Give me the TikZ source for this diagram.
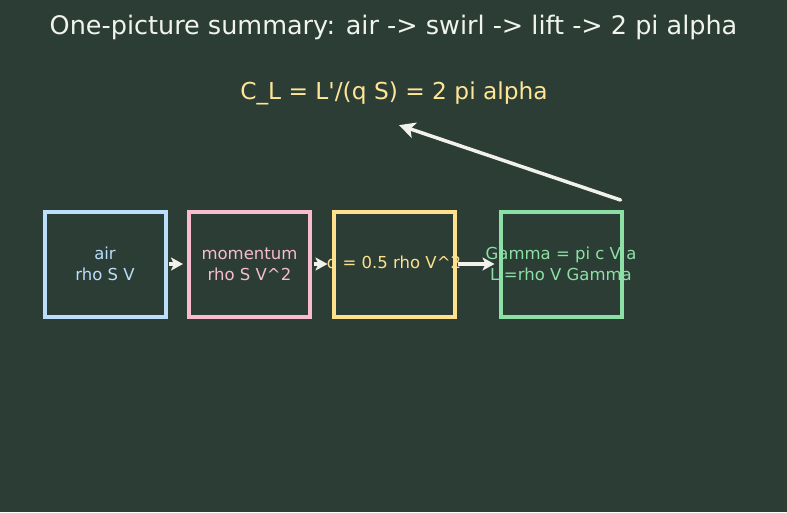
\documentclass[tikz,border=0pt]{standalone}
\usepackage{fontspec}
\setmainfont{DejaVu Sans}[Ligatures=NoCommon]
\usetikzlibrary{arrows.meta,calc}
\definecolor{bg}{RGB}{44,61,53}
\definecolor{cblue}{RGB}{187,222,251}
\definecolor{cpink}{RGB}{248,187,208}
\definecolor{cyel}{RGB}{255,224,140}
\definecolor{cgreen}{RGB}{140,224,165}
\definecolor{ctitle}{RGB}{240,244,236}
\definecolor{cform}{RGB}{255,230,150}
\definecolor{carrow}{RGB}{242,242,236}
\tikzset{
  box/.style={draw=#1, line width=4pt, minimum width=121pt, minimum height=105pt, inner sep=0pt},
  boxtext/.style={text=#1, align=center, font=\fontsize{16.5}{21}\selectfont},
  flow/.style={draw=carrow, line width=3.5pt, -{Stealth[length=12pt,width=13pt,inset=3pt]}},
}
\begin{document}
\begin{tikzpicture}[x=1pt,y=-1pt]
\useasboundingbox (0,0) rectangle (787,512);
\fill[bg] (0,0) rectangle (787,512);
\node[text=ctitle, font=\fontsize{25.5}{30}\selectfont] (title) at (393.5,27) {One-picture summary: air -> swirl -> lift -> 2 pi alpha};
\node[text=cform, font=\fontsize{23.3}{28}\selectfont] (cl) at (394,93) {C\_L = L\textquotesingle/(q S) = 2 pi alpha};
\node[box=cblue, label={[boxtext=cblue]center:air\\rho S V}] (a) at (105,264) {};
\node[box=cpink, label={[boxtext=cpink]center:momentum\\rho S V\^{}2}] (m) at (249.5,264) {};
\node[box=cyel, label={[boxtext=cyel]center:q = 0.5 rho V\^{}2}] (q) at (394,264) {};
\node[box=cgreen, label={[boxtext=cgreen]center:Gamma = pi c V a\\L\textquotesingle=rho V Gamma}] (g) at (561,264) {};
\draw[flow, shorten <=1.5pt, shorten >=4pt] (a.east) -- (m.west);
\draw[flow, shorten <=1.5pt, shorten >=4pt] (m.east) -- (q.west);
\draw[flow, shorten <=1.5pt, shorten >=4pt] (q.east) -- (g.west);
\draw[flow, line cap=round, -{Stealth[length=16pt,width=16pt,inset=4pt]}] ($(g.north east)+(-3,-9.5)$) -- ($(cl.south)+(5,17)$);
\end{tikzpicture}
\end{document}
